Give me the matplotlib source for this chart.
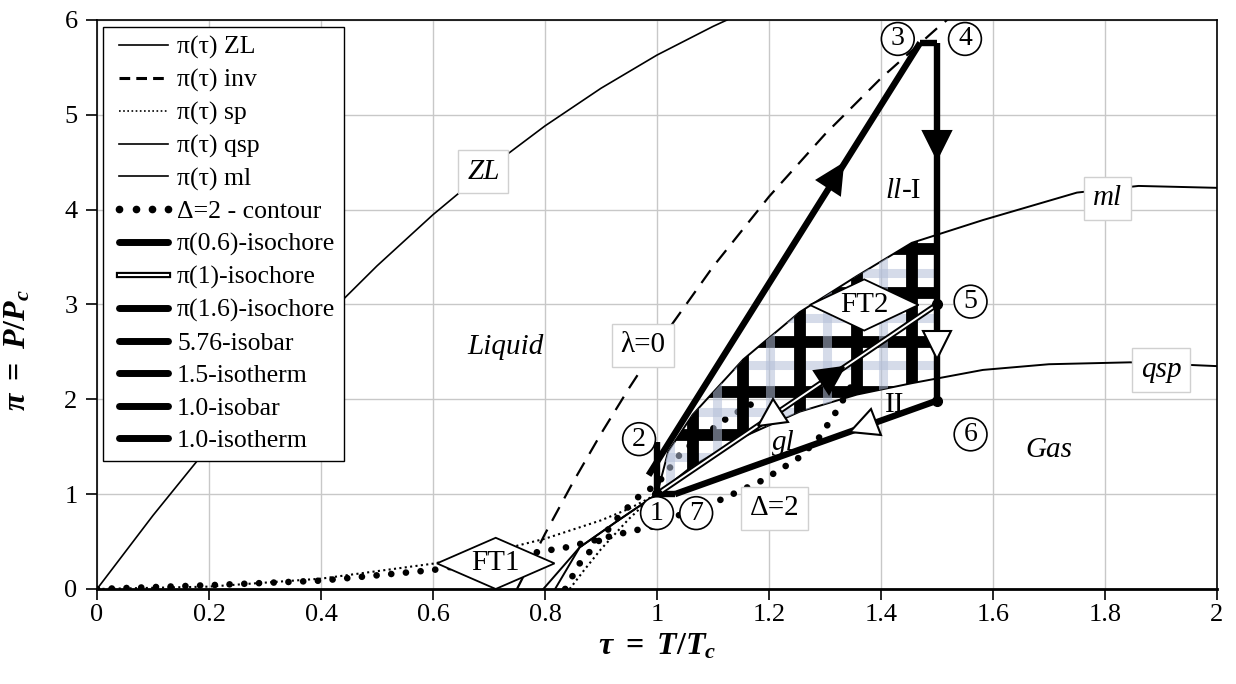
import numpy as np
import matplotlib
matplotlib.use('Agg')
import matplotlib.pyplot as plt
from matplotlib.lines import Line2D
from matplotlib.markers import MarkerStyle
from matplotlib.transforms import Affine2D
from matplotlib.patches import Polygon

plt.rcParams['font.family'] = ['Liberation Serif', 'DejaVu Serif']
plt.rcParams['mathtext.fontset'] = 'custom'
plt.rcParams['mathtext.it'] = 'Liberation Serif:italic:bold'
plt.rcParams['mathtext.rm'] = 'Liberation Serif:bold'
plt.rcParams['mathtext.bf'] = 'Liberation Serif:bold'

# ---------------- data ----------------
tau_zl = [0, 0.1, 0.2, 0.3, 0.4, 0.5, 0.6, 0.7, 0.8, 0.9, 1.0, 1.1, 1.125]
pi_zl = [0, 0.776, 1.505, 2.187, 2.821, 3.407, 3.947, 4.439, 4.883, 5.280, 5.630, 5.932, 6.0]

tau_inv = [0.75, 0.8, 0.85, 0.9, 0.95, 1.0, 1.1, 1.2, 1.3, 1.4, 1.5, 1.52]
pi_inv = [0.0, 0.581, 1.126, 1.637, 2.117, 2.569, 3.398, 4.137, 4.795, 5.386, 5.912, 6.01]

tau_sp_gas = [0, 0.2, 0.4, 0.6, 0.7, 0.8, 0.9, 0.95, 1.0]
pi_sp_gas = [0, 0.025, 0.109, 0.267, 0.382, 0.53, 0.724, 0.846, 1.0]
tau_sp_liq = [0.844, 0.87, 0.9, 0.95, 0.98, 1.0]
pi_sp_liq = [0.0, 0.20, 0.42, 0.74, 0.906, 1.0]

tau_qsp = [0.797, 0.862, 0.93, 1.0, 1.064, 1.16, 1.255, 1.357, 1.455, 1.582, 1.7, 1.845, 2.0]
pi_qsp = [0.0, 0.44, 0.72, 1.0, 1.3, 1.62, 1.87, 2.05, 2.17, 2.31, 2.37, 2.39, 2.35]

tau_ml = [0.818, 0.862, 0.93, 1.0, 1.02, 1.064, 1.154, 1.255, 1.357, 1.455, 1.582, 1.75, 1.86, 2.0]
pi_ml = [0.0, 0.44, 0.72, 1.0, 1.45, 1.84, 2.42, 2.92, 3.3, 3.65, 3.89, 4.18, 4.25, 4.23]

tau_d2_a = [0, 0.2, 0.4, 0.6, 0.788, 0.839, 0.893, 0.94, 0.993, 1.04, 1.095, 1.19, 1.255, 1.29, 1.32, 1.35]
pi_d2_a = [0, 0.04, 0.088, 0.2, 0.39, 0.44, 0.52, 0.59, 0.66, 0.78, 0.89, 1.15, 1.39, 1.6, 1.87, 2.17]
tau_d2_b = [0.836, 0.862, 0.898, 0.934, 0.97, 1.0, 1.045, 1.127, 1.175]
pi_d2_b = [0.0, 0.27, 0.52, 0.78, 0.99, 1.1, 1.45, 1.81, 1.97]

# thermodynamic cycle
tau_iso06 = [0.985, 1.47]
pi_iso06 = [1.2, 5.76]
tau_iso1 = [1.0, 1.5]
pi_iso1 = [1.0, 3.0]
tau_iso16 = [1.5, 1.032]
pi_iso16 = [1.986, 1.0]
tau_isobar576 = [1.47, 1.5]
pi_isobar576 = [5.76, 5.76]
tau_isoT15 = [1.5, 1.5]
pi_isoT15 = [5.76, 1.986]
tau_isobar1 = [1.032, 1.0]
pi_isobar1 = [1.0, 1.0]
tau_isoT1 = [1.0, 1.0]
pi_isoT1 = [1.0, 1.55]

# pattern grid lines (inside the qsp-ml band)
dark_v_tau = [1.064, 1.154, 1.255, 1.357, 1.455]
dark_h_pi = [1.62, 2.08, 2.6, 3.12, 3.58]
light_v_tau = [1.023, 1.107, 1.202, 1.303, 1.404]
light_h_pi = [1.39, 1.87, 2.36, 2.86, 3.33]

xtick_vals = [0, 0.2, 0.4, 0.6, 0.8, 1.0, 1.2, 1.4, 1.6, 1.8, 2.0]
xtick_labels = ['0', '0.2', '0.4', '0.6', '0.8', '1', '1.2', '1.4', '1.6', '1.8', '2']
ytick_vals = [0, 1, 2, 3, 4, 5, 6]

# ---------------- figure ----------------
fig = plt.figure(figsize=(12.36, 6.84), dpi=100)
ax = fig.add_axes([0.0785, 0.1389, 0.9061, 0.8319])
ax.set_xlim(0, 2)
ax.set_ylim(0, 6)
ax.set_xticks(xtick_vals)
ax.set_xticklabels(xtick_labels)
ax.set_yticks(ytick_vals)
ax.tick_params(axis='both', labelsize=19, direction='out', length=8, width=1.2)
ax.tick_params(axis='x', pad=3)
ax.tick_params(axis='y', pad=6)
ax.grid(color='#c8c8c8', lw=1.0)
ax.set_axisbelow(True)
for s in ax.spines.values():
    s.set_linewidth(1.2)
ax.spines['bottom'].set_linewidth(2.0)

# curves
ax.plot(tau_zl, pi_zl, color='k', lw=1.2, zorder=3)
ax.plot(tau_inv, pi_inv, color='k', lw=1.6, ls=(0, (7, 4.5)), zorder=3)
ax.plot(tau_sp_gas, pi_sp_gas, color='k', lw=1.5, ls=(0, (1, 1.6)), zorder=3)
ax.plot(tau_sp_liq, pi_sp_liq, color='k', lw=1.5, ls=(0, (1, 1.6)), zorder=3)
ax.plot(tau_qsp, pi_qsp, color='k', lw=1.4, zorder=3)
ax.plot(tau_ml, pi_ml, color='k', lw=1.4, zorder=3)
for tx, py in ((tau_d2_a, pi_d2_a), (tau_d2_b, pi_d2_b)):
    ax.plot(tx, py, color='k', lw=4.8, ls=(0, (0.01, 2.2)), dash_capstyle='round', zorder=4)

# grid pattern clipped to the band between qsp and ml up to tau = 1.5
band_t = [t for t in tau_ml if 1.0 <= t < 1.5] + [1.5]
band_up = list(np.interp(band_t, tau_ml, pi_ml))
low_t = [1.5] + [t for t in tau_qsp[::-1] if 1.0 <= t < 1.5]
band_lo = list(np.interp(low_t, tau_qsp, pi_qsp))
clip_poly = Polygon(list(zip(band_t, band_up)) + list(zip(low_t, band_lo)),
                    closed=True, transform=ax.transData, fc='none', ec='none')
ax.add_patch(clip_poly)
light_col = '#b3bfd8'
lh = ax.hlines(light_h_pi, 0.9, 1.6, colors=light_col, lw=6.5, alpha=0.55, zorder=5)
dv = ax.vlines(dark_v_tau, 0.5, 4.5, colors='k', lw=8.5, zorder=5.2)
dh = ax.hlines(dark_h_pi, 0.9, 1.6, colors='k', lw=8.5, zorder=5.2)
lv = ax.vlines(light_v_tau, 0.5, 4.5, colors=light_col, lw=6.5, alpha=0.55, zorder=5.4)
for c in (lh, dv, dh, lv):
    c.set_clip_path(clip_poly)

# cycle lines
thick = dict(color='k', lw=4.6, solid_capstyle='butt', zorder=7)
ax.plot(tau_iso06, pi_iso06, **thick)
ax.plot(tau_iso16, pi_iso16, **thick)
ax.plot(tau_isobar576, pi_isobar576, **thick)
ax.plot(tau_isoT15, pi_isoT15, **thick)
ax.plot(tau_isobar1, pi_isobar1, **thick)
ax.plot(tau_isoT1, pi_isoT1, **thick)
ax.plot(tau_iso1, pi_iso1, color='k', lw=4.2, zorder=7)
ax.plot(tau_iso1, pi_iso1, color='white', lw=1.4, zorder=7.1)

# node dots
ax.plot([tau_iso1[1], tau_iso16[0], tau_iso1[0]], [pi_iso1[1], pi_iso16[0], pi_iso1[0]],
        ls='none', marker='o', ms=7, color='k', zorder=8)

# direction arrows (triangles)
def tri(x, y, ang, filled=True, ms=20):
    m = MarkerStyle('^', transform=Affine2D().rotate_deg(ang - 90))
    ax.plot([x], [y], ls='none', marker=m, ms=ms,
            mfc='k' if filled else 'white', mec='k', mew=1.5, zorder=9)

def pix_angle(dx, dy):
    p0 = ax.transData.transform((0, 0))
    p1 = ax.transData.transform((dx, dy))
    return np.degrees(np.arctan2(p1[1] - p0[1], p1[0] - p0[0]))

def on_line(xs, ys, x):
    return ys[0] + (x - xs[0]) * (ys[1] - ys[0]) / (xs[1] - xs[0])

a06 = pix_angle(tau_iso06[1] - tau_iso06[0], pi_iso06[1] - pi_iso06[0])
tri(1.32, on_line(tau_iso06, pi_iso06, 1.32), a06, True)
tri(1.5, 4.68, -90, True)
tri(1.5, 2.57, -90, False)
a16 = pix_angle(tau_iso16[1] - tau_iso16[0], pi_iso16[1] - pi_iso16[0])
tri(1.368, on_line(tau_iso16, pi_iso16, 1.368), a16, False)
a1 = pix_angle(tau_iso1[1] - tau_iso1[0], pi_iso1[1] - pi_iso1[0])
tri(1.315, on_line(tau_iso1, pi_iso1, 1.315), a1, True)
tri(1.2, on_line(tau_iso1, pi_iso1, 1.2), a1 + 180, False)

# ---------------- labels ----------------
boxkw = dict(boxstyle='square,pad=0.3', fc='white', ec='#d0d0d0', lw=1.0)
ax.text(0.69, 4.4, 'ZL', fontsize=21, style='italic', ha='center', va='center', bbox=boxkw, zorder=10)
ax.text(0.975, 2.57, 'λ=0', fontsize=21, ha='center', va='center', bbox=boxkw, zorder=10)
ax.text(1.805, 4.12, 'ml', fontsize=21, style='italic', ha='center', va='center', bbox=boxkw, zorder=10)
ax.text(1.9, 2.31, 'qsp', fontsize=21, style='italic', ha='center', va='center', bbox=boxkw, zorder=10)
ax.text(1.21, 0.85, 'Δ=2', fontsize=21, ha='center', va='center', bbox=boxkw, zorder=10)
ax.text(0.73, 2.55, 'Liquid', fontsize=21, style='italic', ha='center', va='center', zorder=10)
ax.text(1.70, 1.47, 'Gas', fontsize=21, style='italic', ha='center', va='center', zorder=10)
ax.text(1.225, 1.54, 'gl', fontsize=21, style='italic', ha='center', va='center', zorder=10)
ax.text(1.425, 1.94, 'II', fontsize=21, ha='center', va='center', zorder=10)
ax.text(1.437, 4.2, 'll', fontsize=21, style='italic', ha='right', va='center', zorder=10)
ax.text(1.437, 4.2, '-I', fontsize=21, ha='left', va='center', zorder=10)

def diamond(cx, cy, hw, hh, label):
    poly = Polygon([[cx - hw, cy], [cx, cy + hh], [cx + hw, cy], [cx, cy - hh]],
                   closed=True, fc='white', ec='k', lw=1.3, zorder=10)
    ax.add_patch(poly)
    ax.text(cx, cy, label, fontsize=21, ha='center', va='center', zorder=11)

diamond(0.712, 0.27, 0.105, 0.27, 'FT1')
diamond(1.37, 2.995, 0.097, 0.27, 'FT2')

circ = dict(boxstyle='circle,pad=0.14', fc='white', ec='k', lw=1.2)
for lab, x, y in [('1', 1.0, 0.8), ('2', 0.968, 1.58), ('3', 1.43, 5.8), ('4', 1.55, 5.8),
                  ('5', 1.56, 3.03), ('6', 1.56, 1.63), ('7', 1.07, 0.8)]:
    ax.text(x, y, lab, fontsize=20, ha='center', va='center', bbox=circ, zorder=12)

ax.set_xlabel(r'$\tau\ =\ T/T_c$', fontsize=23, labelpad=4)
ax.set_ylabel(r'$\pi\ =\ P/P_c$', fontsize=23)
ax.yaxis.set_label_coords(-0.058, 0.42)

# ---------------- legend ----------------
thk = dict(color='k', lw=5, solid_capstyle='round')
handles = [
    Line2D([], [], color='k', lw=1.2),
    Line2D([], [], color='k', lw=2.2, ls=(0, (3.5, 2))),
    Line2D([], [], color='k', lw=1.2, ls=(0, (1, 1.5))),
    Line2D([], [], color='k', lw=1.2),
    Line2D([], [], color='k', lw=1.2),
    Line2D([], [], color='k', ls='none', marker='o', ms=4.5),
    Line2D([], [], **thk),
    (Line2D([], [], color='k', lw=4.5), Line2D([], [], color='white', lw=1.5)),
    Line2D([], [], **thk),
    Line2D([], [], **thk),
    Line2D([], [], **thk),
    Line2D([], [], **thk),
    Line2D([], [], **thk),
]
labels = ['π(τ) ZL', 'π(τ) inv', 'π(τ) sp', 'π(τ) qsp', 'π(τ) ml', 'Δ=2 - contour',
          'π(0.6)-isochore', 'π(1)-isochore', 'π(1.6)-isochore', '5.76-isobar',
          '1.5-isotherm', '1.0-isobar', '1.0-isotherm']
leg = ax.legend(handles, labels, loc='upper left', bbox_to_anchor=(0.005, 0.988),
                borderaxespad=0, fontsize=18.5, numpoints=4, handlelength=2.5,
                handletextpad=0.05, labelspacing=0.37, borderpad=0.35,
                fancybox=False, framealpha=1, edgecolor='k')
leg.get_frame().set_linewidth(1.0)
leg.set_zorder(20)

fig.savefig('out.png', dpi=100)
